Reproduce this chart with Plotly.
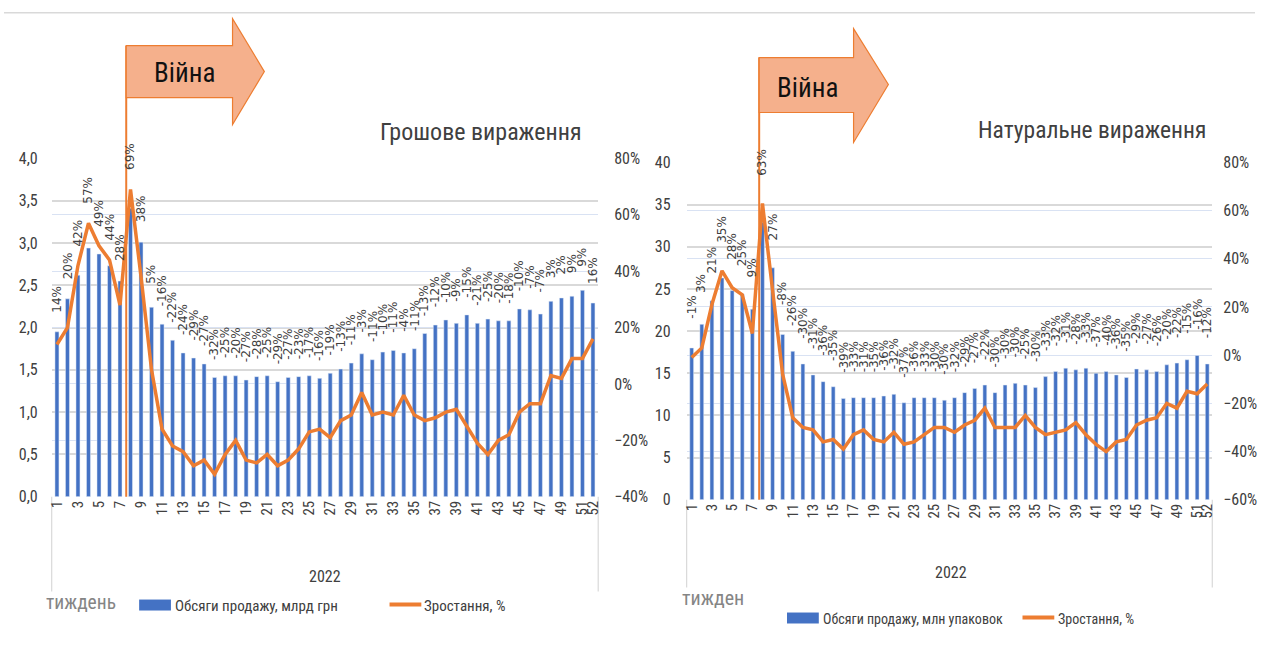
import plotly.graph_objects as go

W, H = 1261, 669

weeks = list(range(1, 53))
tick_weeks = [w for w in weeks if w % 2 == 1] + [52]
tick_labels = [str(w) for w in tick_weeks]

# Left chart: money terms (bn UAH) and growth, %
money_sales = [1.95, 2.34, 2.62, 2.94, 2.87, 2.73, 2.55, 3.41, 3.01, 2.24,
               2.04, 1.85, 1.70, 1.64, 1.57, 1.41, 1.43, 1.43, 1.38, 1.42,
               1.43, 1.36, 1.41, 1.42, 1.43, 1.40, 1.46, 1.51, 1.58, 1.69,
               1.62, 1.71, 1.73, 1.70, 1.75, 1.93, 2.03, 2.09, 2.05, 2.15,
               2.05, 2.10, 2.08, 2.08, 2.22, 2.21, 2.16, 2.31, 2.35, 2.37,
               2.44, 2.29]
money_growth = [14, 20, 42, 57, 49, 44, 28, 69, 38, 5,
                -16, -22, -24, -29, -27, -32, -25, -20, -27, -28,
                -25, -29, -27, -23, -17, -16, -19, -13, -11, -3,
                -11, -10, -11, -4, -11, -13, -12, -10, -9, -15,
                -21, -25, -20, -18, -10, -7, -7, 3, 2, 9,
                9, 16]

# Right chart: physical terms (mn packs) and growth, %
units_sales = [18.0, 20.8, 23.6, 26.3, 24.8, 24.4, 22.6, 32.9, 27.5, 19.6,
               17.6, 16.1, 14.8, 14.0, 13.4, 12.0, 12.1, 12.1, 12.1, 12.3,
               12.5, 11.5, 12.1, 12.1, 12.1, 11.8, 12.1, 12.7, 13.2, 13.6,
               12.7, 13.6, 13.8, 13.6, 13.3, 14.6, 15.2, 15.6, 15.4, 15.6,
               15.0, 15.2, 14.8, 14.5, 15.5, 15.4, 15.2, 16.0, 16.2, 16.6,
               17.1, 16.1]
units_growth = [-1, 3, 21, 35, 28, 25, 9, 63, 27, -8,
                -26, -30, -31, -36, -35, -39, -33, -31, -35, -36,
                -32, -37, -36, -33, -30, -30, -32, -29, -27, -22,
                -30, -30, -30, -25, -30, -33, -32, -31, -28, -33,
                -37, -40, -36, -35, -29, -27, -26, -20, -22, -15,
                -16, -12]

money_ticks = [0, 0.5, 1, 1.5, 2, 2.5, 3, 3.5, 4]
money_tick_text = ["0,0", "0,5", "1,0", "1,5", "2,0", "2,5", "3,0", "3,5", "4,0"]

BLUE = "#4472C4"
ORANGE = "#ED7D31"
TXT = "#404040"
NARROW = "Liberation Sans Narrow, Roboto Condensed, Liberation Sans, sans-serif"
LABELF = "DejaVu Sans, Verdana, sans-serif"

# page-to-photo correction (measured from the rendered output)
OX, SX = 2.0, 1.0
OY, SY = 8.3, 0.9735


def px(x):
    return ((x - OX) / SX) / W


def py(y):
    return 1 - ((y - OY) / SY) / H


fig = go.Figure()

# Left chart traces
fig.add_trace(go.Bar(x=weeks, y=money_sales, marker_color=BLUE, width=0.38,
                     xaxis="x", yaxis="y", showlegend=False, hoverinfo="skip"))
fig.add_trace(go.Scatter(x=weeks, y=money_growth, mode="lines",
                         line=dict(color=ORANGE, width=3.5),
                         xaxis="x", yaxis="y2", showlegend=False, hoverinfo="skip"))
# Right chart traces
fig.add_trace(go.Bar(x=weeks, y=units_sales, marker_color=BLUE, width=0.38,
                     xaxis="x2", yaxis="y3", showlegend=False, hoverinfo="skip"))
fig.add_trace(go.Scatter(x=weeks, y=units_growth, mode="lines",
                         line=dict(color=ORANGE, width=3.5),
                         xaxis="x2", yaxis="y4", showlegend=False, hoverinfo="skip"))

annotations = []
# data labels above the higher of bar / line
for w, s, g in zip(weeks, money_sales, money_growth):
    top = max(s, (g + 40) / 120 * 4)
    annotations.append(dict(x=w, y=top, xref="x", yref="y", text=f"{g}%",
                            showarrow=False, textangle=-90, xanchor="center",
                            yanchor="middle", yshift=33,
                            font=dict(family=LABELF, size=12, color=TXT)))
for w, s, g in zip(weeks, units_sales, units_growth):
    top = max(s, (g + 60) / 140 * 40)
    annotations.append(dict(x=w, y=top, xref="x2", yref="y3", text=f"{g}%",
                            showarrow=False, textangle=-90, xanchor="center",
                            yanchor="middle", yshift=41,
                            font=dict(family=LABELF, size=12, color=TXT)))


def txt(x, y, text, size, color=TXT, xanchor="center", family=NARROW):
    annotations.append(dict(x=px(x), y=py(y), xref="paper", yref="paper", text=text,
                            showarrow=False, xanchor=xanchor, yanchor="middle",
                            font=dict(family=family, size=size, color=color)))


txt(586, 132, "Грошове вираження", 24, xanchor="right")
txt(1214, 130, "Натуральне вираження", 23.5, xanchor="right")
txt(184, 72, "Війна", 27, color="#111111")
txt(811, 87, "Війна", 27, color="#111111")
txt(325, 577, "2022", 16)
txt(955, 573, "2022", 16)
txt(42, 603, "тиждень", 19.5, color="#858585", xanchor="left")
txt(682, 598, "тижден", 20, color="#858585", xanchor="left")
txt(172, 606, "Обсяги продажу, млрд грн", 15, xanchor="left")
txt(423, 606, "Зростання, %", 15, xanchor="left")
txt(824, 619, "Обсяги продажу, млн упаковок", 14, xanchor="left")
txt(1061, 619, "Зростання, %", 14, xanchor="left")

shapes = []


def line(x0, y0, x1, y1, color, width, layer="above"):
    shapes.append(dict(type="line", xref="paper", yref="paper", x0=max(px(x0), 0),
                       y0=py(y0), x1=min(px(x1), 1), y1=py(y1),
                       line=dict(color=color, width=width), layer=layer))


def arrow(bx0, by0, by1, hx, hy0, hy1, tipx, tipy):
    pts = [(bx0, by0), (hx, by0), (hx, hy0), (tipx, tipy), (hx, hy1), (hx, by1), (bx0, by1)]
    path = "M " + " L ".join(f"{px(a):.5f},{py(b):.5f}" for a, b in pts) + " Z"
    shapes.append(dict(type="path", xref="paper", yref="paper", path=path,
                       fillcolor="#F5B08C", line=dict(color=ORANGE, width=1.2),
                       layer="above"))


# top thin separator line
line(0, 12, W, 12, "#D9D9D9", 1.5, "below")
# group separators under category axes
line(50, 497, 50, 592, "#D9D9D9", 1.2, "below")
line(600, 497, 600, 592, "#D9D9D9", 1.2, "below")
line(689, 500, 689, 588, "#D9D9D9", 1.2, "below")
line(1218, 500, 1218, 588, "#D9D9D9", 1.2, "below")
# war markers
line(125, 45, 125, 497, ORANGE, 2)
line(762, 57, 762, 500, ORANGE, 2)
arrow(125, 45, 97, 232, 18, 124, 264, 71)
arrow(762, 57, 112, 857, 28, 142, 892, 84)
# legend swatches
shapes.append(dict(type="rect", xref="paper", yref="paper", x0=px(138), x1=px(170),
                   y0=py(611), y1=py(600), fillcolor=BLUE, line=dict(width=0)))
line(390, 605, 422, 605, ORANGE, 4)
shapes.append(dict(type="rect", xref="paper", yref="paper", x0=px(790), x1=px(822),
                   y0=py(624), y1=py(613), fillcolor=BLUE, line=dict(width=0)))
line(1027, 618, 1059, 618, ORANGE, 4)

GRID = "#D9D9D9"
GRID2 = "#D9E2F3"
tickfont = dict(family=NARROW, size=16, color=TXT)

xcommon = dict(range=[0.5, 52.5], tickmode="array", tickvals=tick_weeks, ticktext=tick_labels,
               tickangle=-90, showgrid=False, zeroline=False, showline=False, ticks="",
               ticklen=0, tickfont=dict(family=NARROW, size=15, color=TXT), fixedrange=True)

fig.update_layout(
    width=W, height=H, margin=dict(l=0, r=0, t=0, b=0),
    paper_bgcolor="white", plot_bgcolor="rgba(0,0,0,0)",
    bargap=0.6, showlegend=False,
    xaxis=dict(domain=[px(50), px(600)], anchor="y", **xcommon),
    xaxis2=dict(domain=[px(689), px(1218)], anchor="y3", **xcommon),
    yaxis=dict(domain=[py(497), py(158)], range=[0, 4], tickvals=money_ticks,
               ticktext=money_tick_text, gridcolor=GRID, gridwidth=1.5, zeroline=False,
               showline=False, tickfont=tickfont, ticks="", ticklen=0,
               ticklabelstandoff=13, anchor="x"),
    yaxis2=dict(domain=[py(497), py(158)], range=[-40, 80], dtick=20, ticksuffix="%",
                overlaying="y", side="right", anchor="x", gridcolor=GRID2, gridwidth=1.2,
                zeroline=False, showline=False, tickfont=tickfont, ticks="", ticklen=0,
                ticklabelstandoff=15),
    yaxis3=dict(domain=[py(500), py(162)], range=[0, 40], dtick=5, gridcolor=GRID,
                gridwidth=1.5, zeroline=False, showline=False, tickfont=tickfont,
                ticks="", ticklen=0, ticklabelstandoff=15, anchor="x2"),
    yaxis4=dict(domain=[py(500), py(162)], range=[-60, 80], dtick=20, ticksuffix="%",
                overlaying="y3", side="right", anchor="x2", gridcolor=GRID2, gridwidth=1.2,
                zeroline=False, showline=False, tickfont=tickfont, ticks="", ticklen=0,
                ticklabelstandoff=10),
    annotations=annotations,
    shapes=shapes,
)

fig.write_html(
    "out.html",
    config={"displayModeBar": False},
    post_script="document.body.style.margin='0';document.body.style.overflow='hidden';",
)
